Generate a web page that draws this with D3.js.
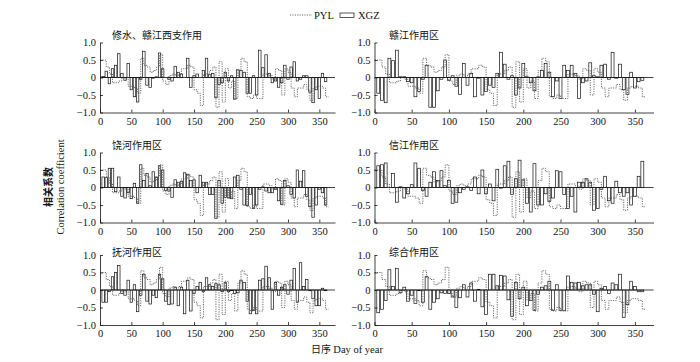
<!DOCTYPE html>
<html><head><meta charset="utf-8">
<script src="https://cdn.jsdelivr.net/npm/d3@7/dist/d3.min.js"></script>
<style>body{margin:0;background:#fff}</style>
</head><body>
<svg id="c" width="700" height="362"></svg>
<script>
// ---------- data ----------
const panelTitles = ["修水、赣江西支作用", "赣江作用区", "饶河作用区", "信江作用区", "抚河作用区", "综合作用区"];
const xTicks = [0, 50, 100, 150, 200, 250, 300, 350];
const yTicks = [-1, -0.5, 0, 0.5, 1];
const yTickLabels = ["−1.0", "−0.5", "0", "0.5", "1.0"];
const barDays = d3.range(5, 365, 5);   // 5 … 360
const pylDays = d3.range(0, 365, 5);   // 0 … 360

const pyl = [0.5,0.5,0.3,0.1,-0.15,-0.15,-0.1,0,-0.05,-0.25,-0.25,-0.3,-0.45,0.55,0.35,0.3,0.15,0.2,0.3,0.65,
  -0.1,-0.2,0.05,0.1,0.05,0.1,0.25,0.25,0.35,0.3,-0.35,-0.45,-0.8,0.1,0.1,0.2,0.3,-0.85,0.45,-0.7,
  0.25,-0.3,-0.1,-0.6,0.2,0.55,0.45,-0.55,-0.6,-0.5,-0.6,-0.6,0.1,0.1,0.05,-0.05,0.25,0.2,-0.5,0.25,
  0.15,-0.3,-0.55,-0.3,-0.3,-0.2,-0.35,-0.65,-0.3,-0.25,-0.25,-0.3,-0.55];

const xgzXiushui = [0.03,0.18,-0.18,0.25,0.35,0.68,0.12,-0.08,0.4,-0.35,-0.55,-0.7,-0.05,0.75,-0.22,-0.28,-0.02,0.02,0.7,0.25,
  0,-0.05,-0.1,0.32,0.15,0.1,0,0.55,-0.28,0.05,0.1,0,0.2,0.55,0.08,0.12,-0.58,-0.2,-0.15,0.15,
  -0.1,0.05,-0.62,0.22,0.2,0.15,-0.45,-0.45,0.05,-0.5,0.78,0.28,0.65,0.12,-0.15,-0.1,-0.28,-0.15,0.35,-0.05,
  0.3,0.45,-0.1,-0.05,0.05,0.05,-0.42,-0.72,-0.35,-0.6,0.12,-0.12];
const xgzGanjiang = [-0.45,-0.65,-0.72,0.55,0.48,0.78,0.02,0.02,-0.12,-0.15,-0.55,-0.4,-0.05,0.35,-0.85,-0.85,-0.38,-0.05,0.5,-0.08,
  0.05,-0.25,-0.48,0.4,-0.22,0.12,-0.55,-0.02,-0.5,-0.4,-0.22,-0.28,0.12,0.72,0.38,-0.05,0.05,-0.5,-0.3,0.4,
  0.02,-0.15,-0.38,0.02,0.2,0.4,0.15,-0.55,-0.1,-0.6,0.35,0.2,0.35,0.12,-0.6,-0.15,-0.1,0.42,0.05,0.02,
  0.35,0.38,-0.05,0.72,-0.02,0.38,-0.35,-0.48,0.15,-0.3,-0.12,-0.08];
const xgzRaohe = [0.3,0.28,0.55,0.55,-0.12,0.3,-0.25,-0.3,-0.15,-0.32,0.12,-0.45,0.65,0.2,0.4,0.05,0.45,0.3,0.62,0.5,
  -0.08,-0.1,-0.28,0.22,0.15,0.18,0.42,0.38,0.2,0.22,-0.15,0.35,0.15,0.15,-0.2,-0.2,-0.88,0.2,-0.45,-0.28,
  -0.3,-0.32,0.3,0.35,-0.05,-0.5,-0.52,-0.2,-0.6,-0.5,-0.05,0.02,-0.1,-0.15,-0.15,-0.05,-0.38,-0.48,0.2,0.05,
  -0.2,-0.3,0.5,0.18,0.48,-0.25,-0.55,-0.85,-0.5,-0.05,-0.15,-0.5];
const xgzXinjiang = [0.62,0.65,0.7,0.0,0.4,-0.42,0.02,-0.3,-0.18,0.08,0.7,0.55,-0.08,-0.25,0.15,0.45,0.2,0.48,0.05,0.2,
  -0.45,-0.42,-0.15,-0.05,0.02,-0.08,0.3,-0.18,0.5,-0.18,0.1,-0.38,0.52,-0.02,0.62,0.75,-0.2,0.25,0.78,0.22,
  -0.45,-0.7,0.68,-0.5,-0.5,-0.18,-0.4,-0.3,0.48,0.45,-0.2,-0.6,-0.25,-0.7,0.15,0.15,0.25,0.15,-0.65,-0.6,
  -0.05,0.32,-0.38,-0.45,0.18,-0.15,-0.25,-0.15,-0.5,-0.25,0.32,0.75];
const xgzFuhe = [-0.35,-0.35,-0.05,0.38,0.5,0.7,-0.1,-0.15,0.28,-0.35,0.15,-0.62,-0.15,0.45,-0.32,-0.4,-0.15,-0.22,0.45,0.32,
  -0.32,-0.42,-0.4,0.08,-0.45,0.08,-0.68,0.28,-0.6,-0.1,0.1,0.22,-0.05,0.35,0.15,0.1,0.18,0.15,-0.05,0.22,
  -0.05,-0.02,-0.1,-0.08,0.28,0.22,-0.32,-0.68,-0.58,-0.68,0.28,0.32,0.68,0.35,-0.55,0.22,-0.15,0.08,0.15,-0.12,
  0.28,0.62,-0.35,0.78,0.1,0.3,-0.02,-0.25,-0.45,-0.45,0.05,-0.02];
const xgzZonghe = [-0.65,-0.55,-0.3,0.58,0.1,0.62,-0.08,0.08,-0.32,-0.15,-0.38,-0.02,-0.35,0.38,-0.55,-0.35,-0.25,-0.08,-0.1,-0.1,
  -0.2,-0.5,-0.22,0.15,-0.2,0.2,-0.32,0.02,-0.48,-0.7,0.45,0.45,0.12,0.42,0.4,-0.28,-0.75,0.22,-0.25,0.08,
  -0.45,-0.3,-0.58,-0.12,0.08,0.12,0.25,-0.58,0.15,-0.58,-0.58,0.4,0.22,0.2,0.22,0.12,0.15,0.15,-0.12,-0.62,
  0.05,0.1,-0.1,0.2,0.15,0.45,-0.78,-0.42,0.25,0.1,-0.05,-0.05];

const xgzSeries = [xgzXiushui, xgzGanjiang, xgzRaohe, xgzXinjiang, xgzFuhe, xgzZonghe];

// ---------- layout ----------
const cols = [{x0: 100, x1: 335, tx: 112}, {x0: 374.5, x1: 653.5, tx: 389}];
const rows = [{yTop: 42.5, yBot: 112.5, ty: 35}, {yTop: 152.5, yBot: 222.5, ty: 145}, {yTop: 255, yBot: 325, ty: 252.5}];

const svg = d3.select("#c");
const numFont = "'Liberation Serif','Times New Roman',serif";
const cjkFont = "'Noto Sans CJK SC','Liberation Serif',serif";

xgzSeries.forEach((vals, i) => {
  const col = cols[i % 2], row = rows[Math.floor(i / 2)];
  const x = d3.scaleLinear().domain([0, 375]).range([col.x0, col.x1]);
  const y = d3.scaleLinear().domain([-1, 1]).range([row.yBot, row.yTop]);
  const g = svg.append("g");
  const step = x(5) - x(0);
  const bw = step * 0.78;

  // bars
  g.selectAll("rect.bar").data(vals).join("rect")
    .attr("x", (d, j) => x(barDays[j]) - bw / 2)
    .attr("y", d => Math.min(y(d), y(0)))
    .attr("width", bw)
    .attr("height", d => Math.abs(y(d) - y(0)))
    .attr("fill", "#fff").attr("stroke", "#111").attr("stroke-width", 0.7);

  // PYL dotted step line
  const pts = pyl.map((v, j) => [pylDays[j], v]);
  pts.push([365, pyl[pyl.length - 1]]);
  g.append("path").datum(pts)
    .attr("d", d3.line().x(d => x(d[0])).y(d => y(d[1])).curve(d3.curveStepAfter))
    .attr("fill", "none").attr("stroke", "#444").attr("stroke-width", 0.8)
    .attr("stroke-dasharray", "1.2,1.2");

  // zero line
  g.append("line").attr("x1", x(0)).attr("x2", x(375)).attr("y1", y(0)).attr("y2", y(0))
    .attr("stroke", "#111").attr("stroke-width", 0.8);

  // y axis
  const ya = g.append("g").attr("transform", `translate(${x(0)},0)`)
    .call(d3.axisLeft(y).tickValues(yTicks).tickSizeInner(-3).tickSizeOuter(0).tickPadding(4)
      .tickFormat((d, k) => yTickLabels[k]));
  // x axis
  const xa = g.append("g").attr("transform", `translate(0,${y(-1)})`)
    .call(d3.axisBottom(x).tickValues(xTicks).tickSizeInner(-3).tickSizeOuter(0).tickPadding(5));
  [ya, xa].forEach(a => {
    a.select(".domain").attr("stroke", "#111").attr("stroke-width", 0.8);
    a.selectAll(".tick line").attr("stroke", "#111").attr("stroke-width", 0.8);
    a.selectAll("text").attr("font-family", numFont).attr("font-size", 10.5).attr("fill", "#111");
  });

  // title
  g.append("text").attr("x", col.tx).attr("y", row.ty + 3.6)
    .attr("font-family", cjkFont).attr("font-size", 10).attr("fill", "#111")
    .text(panelTitles[i]);
});

// y axis title
svg.append("text").attr("transform", "translate(52,187) rotate(-90)")
  .attr("text-anchor", "middle").attr("font-family", cjkFont).attr("font-size", 10)
  .attr("font-weight", "bold").attr("fill", "#111").text("相关系数");
svg.append("text").attr("transform", "translate(64,187) rotate(-90)")
  .attr("text-anchor", "middle").attr("font-family", numFont).attr("font-size", 10.5)
  .attr("fill", "#111").text("Correlation coefficient");

// x axis title
svg.append("text").attr("x", 347).attr("y", 353).attr("text-anchor", "middle")
  .attr("font-size", 10.5).attr("fill", "#111")
  .call(t => {
    t.append("tspan").attr("font-family", cjkFont).attr("font-size", 10).text("日序 ");
    t.append("tspan").attr("font-family", numFont).text("Day of year");
  });

// legend
const lg = svg.append("g");
lg.append("line").attr("x1", 290).attr("x2", 312).attr("y1", 15).attr("y2", 15)
  .attr("stroke", "#444").attr("stroke-width", 0.8).attr("stroke-dasharray", "1.2,1.2");
lg.append("text").attr("x", 314).attr("y", 18.8).attr("font-family", numFont)
  .attr("font-size", 10.5).attr("fill", "#111").text("PYL");
lg.append("rect").attr("x", 340).attr("y", 13).attr("width", 14).attr("height", 4.5)
  .attr("fill", "#fff").attr("stroke", "#111").attr("stroke-width", 0.7);
lg.append("text").attr("x", 358).attr("y", 18.8).attr("font-family", numFont)
  .attr("font-size", 10.5).attr("fill", "#111").text("XGZ");
</script>
</body></html>
